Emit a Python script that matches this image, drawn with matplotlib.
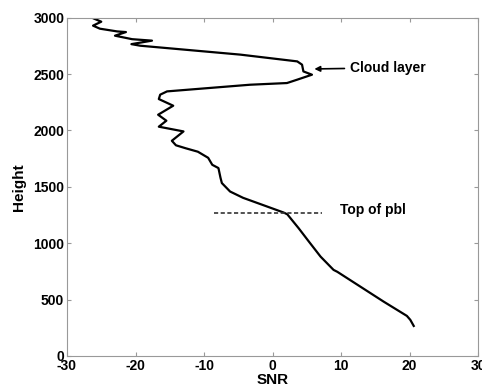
import matplotlib
matplotlib.use('Agg')
from matplotlib import pyplot as plt

plt.rcParams['font.family'] = ['Liberation Sans', 'DejaVu Sans']
plt.rcParams['font.weight'] = 'bold'
plt.rcParams['axes.unicode_minus'] = False

# SNR profile (bottom to top)
height = [266, 320, 355, 482, 615, 746, 763, 881, 1014, 1133, 1256, 1272,
          1325, 1402, 1458, 1533, 1580, 1666, 1695, 1757, 1811, 1842, 1868,
          1908, 1991, 2033, 2086, 2139, 2219, 2278, 2317, 2346, 2405, 2420,
          2450, 2494, 2523, 2583, 2612, 2672, 2751, 2765, 2796, 2809, 2840,
          2872, 2878, 2902, 2929, 2964, 2995, 3000]
snr = [20.6, 20.1, 19.6, 16.2, 12.8, 9.45, 8.9, 7.0, 5.3, 3.8, 2.15, 1.6,
       -0.8, -4.3, -6.2, -7.4, -7.6, -7.9, -8.8, -9.4, -10.9, -12.7, -14.1,
       -14.7, -13.0, -16.6, -15.5, -16.7, -14.5, -16.6, -16.4, -15.4, -3.3, 2.1,
       3.6, 5.75, 4.5, 4.3, 3.6, -4.7, -19.3, -20.6, -17.6, -20.5, -23.0,
       -21.4, -22.7, -25.2, -26.2, -25.0, -26.2, -24.6]

pbl_height = 1270
pbl_range = [-8.6, 7.2]

fig = plt.figure(figsize=(4.82, 3.92), dpi=100)
ax = fig.add_axes([0.139, 0.092, 0.853, 0.863])

ax.plot(snr, height, color='black', lw=1.6)
ax.plot(pbl_range, [pbl_height, pbl_height], color='#333333', lw=1.2,
        linestyle=(0, (2.5, 1.5)))

ax.annotate('Cloud layer', xy=(6.1, 2545), xytext=(11.3, 2555),
            fontsize=10, fontweight='bold', va='center',
            arrowprops=dict(arrowstyle='-|>', color='black', lw=1.2,
                            mutation_scale=8, shrinkA=2, shrinkB=0))
ax.text(9.9, 1296, 'Top of pbl', fontsize=10, fontweight='bold', va='center')

ax.set_xlim(-30, 30)
ax.set_ylim(0, 3000)
ax.set_xticks([-30, -20, -10, 0, 10, 20, 30])
ax.set_yticks([0, 500, 1000, 1500, 2000, 2500, 3000])
ax.tick_params(direction='in', top=True, right=True, length=3,
               color='#999999', labelsize=10, pad=2)
for s in ax.spines.values():
    s.set_color('#999999')
ax.set_xlabel('SNR', fontsize=11, fontweight='bold', labelpad=0)
ax.set_ylabel('Height', fontsize=11, fontweight='bold', labelpad=5)

fig.savefig('out.png', dpi=100)
